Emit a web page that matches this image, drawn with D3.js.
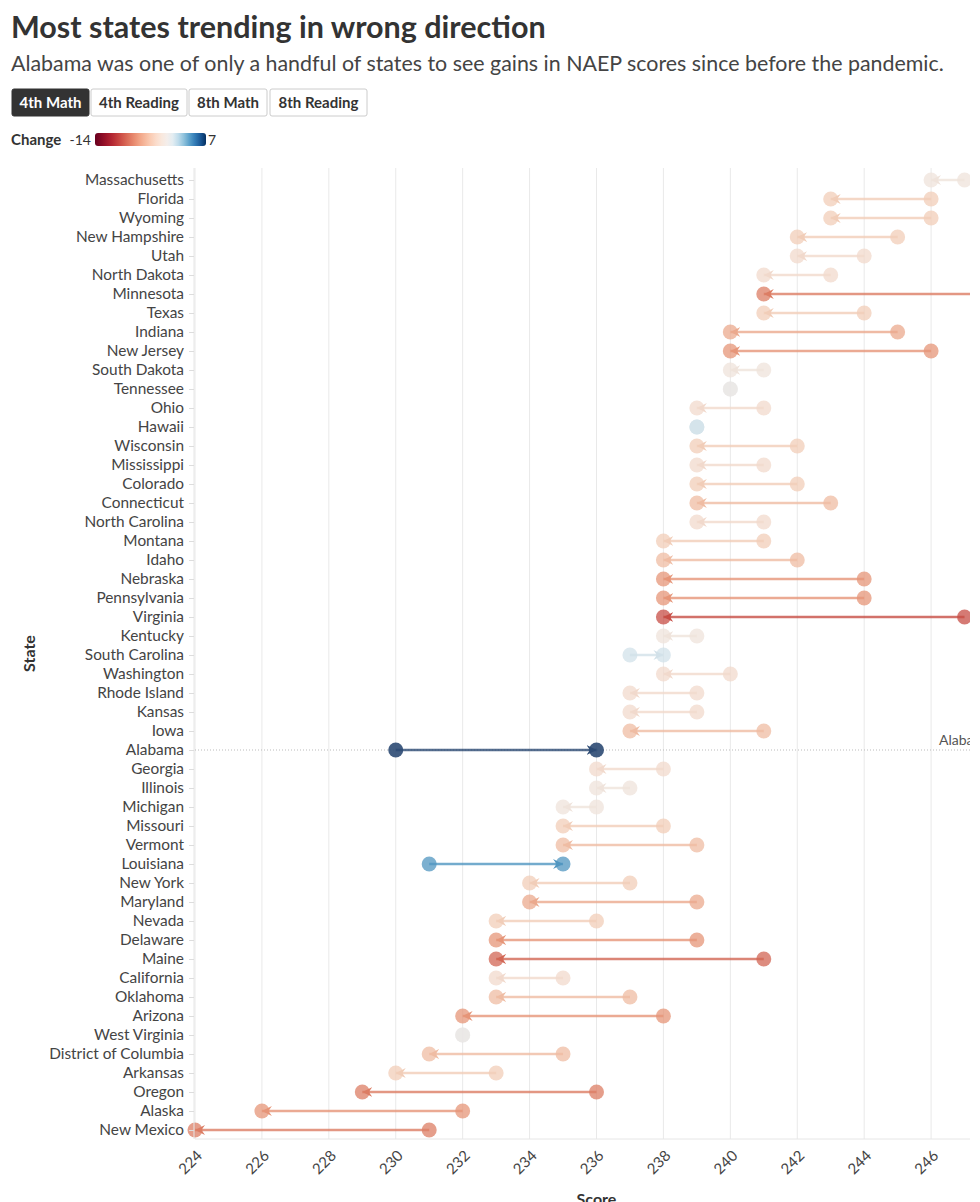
<!DOCTYPE html>
<html>
<head>
<meta charset="utf-8">
<script src="https://cdn.jsdelivr.net/npm/d3@7"></script>
<style>
  html, body { margin: 0; padding: 0; background: #fff; overflow: hidden; }
  svg { display: block; font-family: Lato, "Noto Sans", sans-serif; }
</style>
</head>
<body>
<div id="chart"></div>
<script>
// ---- data ----
const states = ["Massachusetts","Florida","Wyoming","New Hampshire","Utah","North Dakota","Minnesota","Texas","Indiana","New Jersey","South Dakota","Tennessee","Ohio","Hawaii","Wisconsin","Mississippi","Colorado","Connecticut","North Carolina","Montana","Idaho","Nebraska","Pennsylvania","Virginia","Kentucky","South Carolina","Washington","Rhode Island","Kansas","Iowa","Alabama","Georgia","Illinois","Michigan","Missouri","Vermont","Louisiana","New York","Maryland","Nevada","Delaware","Maine","California","Oklahoma","Arizona","West Virginia","District of Columbia","Arkansas","Oregon","Alaska","New Mexico"];
const score2019 = [247,246,246,245,244,243,248,244,245,246,241,240,241,239,242,241,242,243,241,241,242,244,244,247,239,237,240,239,239,241,230,238,237,236,238,239,231,237,239,236,239,241,235,237,238,232,235,233,236,232,231];
const score2022 = [246,243,243,242,242,241,241,241,240,240,240,240,239,239,239,239,239,239,239,238,238,238,238,238,238,238,238,237,237,237,236,236,236,235,235,235,235,234,234,233,233,233,233,233,232,232,231,230,229,226,224];
const change    = [-1,-3,-3,-3,-2,-2,-7,-3,-5,-6,-1,0,-2,1,-3,-2,-3,-4,-2,-3,-4,-6,-6,-9,-1,1,-2,-2,-2,-4,6,-2,-1,-1,-3,-4,4,-3,-5,-3,-6,-8,-2,-4,-6,0,-4,-3,-7,-6,-7];
const xTicks = [224,226,228,230,232,234,236,238,240,242,244,246,248];
const tabs = ["4th Math","4th Reading","8th Math","8th Reading"];
const legendDomain = [-14, 7];
const highlight = "Alabama";

const rows = states.map((s, i) => ({state: s, y19: score2019[i], y22: score2022[i], change: change[i]}));

const W = 980, H = 1202;
const svg = d3.select("#chart").append("svg").attr("width", W).attr("height", H);

// ---- header ----
svg.append("text").attr("x", 11).attr("y", 38)
  .attr("font-size", 30.5).attr("font-weight", 700).attr("fill", "#333")
  .text("Most states trending in wrong direction");
svg.append("text").attr("x", 11).attr("y", 71)
  .attr("font-size", 21.4).attr("fill", "#444")
  .text("Alabama was one of only a handful of states to see gains in NAEP scores since before the pandemic.");

// tabs
const tabX = [12, 91, 189, 270], tabW = [77, 96, 78, 97];
const tg = svg.append("g").selectAll("g").data(tabs).join("g")
  .attr("transform", (d, i) => `translate(${tabX[i]},89)`);
tg.append("rect").attr("width", (d, i) => tabW[i]).attr("height", 27).attr("rx", 2)
  .attr("fill", (d, i) => i === 0 ? "#333" : "#fff")
  .attr("stroke", (d, i) => i === 0 ? "#333" : "#ccc");
tg.append("text").attr("x", (d, i) => tabW[i] / 2).attr("y", 19).attr("text-anchor", "middle")
  .attr("font-size", 15).attr("font-weight", 700)
  .attr("fill", (d, i) => i === 0 ? "#fff" : "#333").text(d => d);

// ---- colour ----
const color = d3.scaleDiverging(d3.interpolateRdBu).domain([legendDomain[0], 0, legendDomain[1]]);

// legend
svg.append("text").attr("x", 11).attr("y", 145).attr("font-size", 15).attr("font-weight", 700).attr("fill", "#333").text("Change");
svg.append("text").attr("x", 91).attr("y", 145).attr("text-anchor", "end").attr("font-size", 14).attr("fill", "#333").text(legendDomain[0]);
svg.append("text").attr("x", 208).attr("y", 145).attr("font-size", 14).attr("fill", "#333").text(legendDomain[1]);
const defs = svg.append("defs");
const grad = defs.append("linearGradient").attr("id", "lg");
d3.range(0, 1.0001, 0.05).forEach(t => {
  grad.append("stop").attr("offset", t).attr("stop-color", color(legendDomain[0] + t * (legendDomain[1] - legendDomain[0])));
});
svg.append("rect").attr("x", 95).attr("y", 133).attr("width", 111).attr("height", 13).attr("rx", 3).attr("fill", "url(#lg)");

// ---- scales ----
const x = d3.scaleLinear().domain([224, 248]).range([195, 998]);
const y = d3.scalePoint().domain(states).range([180, 1130]);
const plotTop = 168, plotBottom = 1139, clipRight = 970;

defs.append("clipPath").attr("id", "plotclip").append("rect")
  .attr("x", 0).attr("y", 0).attr("width", clipRight).attr("height", H);

const plot = svg.append("g").attr("clip-path", "url(#plotclip)");

// grid
plot.append("g").selectAll("line").data(xTicks).join("line")
  .attr("x1", d => x(d)).attr("x2", d => x(d)).attr("y1", plotTop).attr("y2", plotBottom)
  .attr("stroke", "#e9e9e9").attr("stroke-width", 1);
plot.append("line").attr("x1", x(224)).attr("x2", W).attr("y1", plotBottom).attr("y2", plotBottom)
  .attr("stroke", "#e6e6e6");

// x axis labels
const xAxis = d3.axisBottom(x).tickValues(xTicks.filter(t => t <= 246)).tickSize(0).tickPadding(0);
const xg = svg.append("g").attr("transform", `translate(0,${plotBottom})`).call(xAxis);
xg.select(".domain").remove();
xg.selectAll("text")
  .attr("font-family", "Lato, sans-serif").attr("font-size", 15).attr("fill", "#444")
  .attr("text-anchor", "end").attr("dy", "0.35em")
  .attr("transform", "translate(4,14) rotate(-45)");
svg.append("text").attr("x", x(236)).attr("y", 1205).attr("text-anchor", "middle")
  .attr("font-size", 16).attr("font-weight", 700).attr("fill", "#333").text("Score");

// y axis
const yAxis = d3.axisLeft(y).tickSize(5).tickPadding(5);
const yg = svg.append("g").attr("transform", `translate(${x(224) - 1},0)`).call(yAxis);
yg.select(".domain").attr("d", `M0,${plotTop}V${plotBottom}`).attr("stroke", "#e6e6e6");
yg.selectAll(".tick line").attr("stroke", "#ddd");
yg.selectAll("text").attr("font-family", "Lato, sans-serif").attr("font-size", 15.4).attr("fill", "#444");
svg.append("text").attr("transform", `translate(35,${(plotTop + plotBottom) / 2}) rotate(-90)`)
  .attr("text-anchor", "middle").attr("font-size", 16).attr("font-weight", 700).attr("fill", "#333").text("State");

// highlight row
plot.append("line").attr("x1", x(224)).attr("x2", W).attr("y1", y(highlight)).attr("y2", y(highlight))
  .attr("stroke", "#bbb").attr("stroke-dasharray", "1,2");
plot.append("text").attr("x", 939).attr("y", y(highlight) - 5).attr("font-size", 14).attr("fill", "#555").text("Alabama");

const hiColor = "#2c4a73";
const fillOf = d => d.state === highlight ? hiColor : d3.color(color(d.change)).darker(0.1).formatHex();

// markers: chevron with tip at the 2022 end of the line
defs.selectAll("marker").data(rows).join("marker")
  .attr("id", (d, i) => "m" + i)
  .attr("viewBox", "0 -5 10 10").attr("refX", 10).attr("refY", 0)
  .attr("markerWidth", 4).attr("markerHeight", 4).attr("markerUnits", "strokeWidth")
  .attr("orient", "auto")
  .append("path").attr("d", "M0,-5L10,0L0,5L3.5,0Z").attr("fill", d => fillOf(d));

// dots
const dg = plot.append("g");
rows.forEach(d => {
  dg.append("circle").attr("cx", x(d.y19)).attr("cy", y(d.state)).attr("r", 7.5)
    .attr("fill", fillOf(d)).attr("fill-opacity", d.state === highlight ? 0.9 : 0.75);
  dg.append("circle").attr("cx", x(d.y22)).attr("cy", y(d.state)).attr("r", 7.5)
    .attr("fill", fillOf(d)).attr("fill-opacity", d.state === highlight ? 0.9 : 0.75);
});

// lines with arrowheads at 2022 end
plot.append("g").selectAll("line").data(rows.filter(d => d.y19 !== d.y22)).join("line")
  .attr("x1", d => x(d.y19)).attr("x2", d => x(d.y22))
  .attr("y1", d => y(d.state)).attr("y2", d => y(d.state))
  .attr("stroke", d => fillOf(d)).attr("stroke-width", 2.5).attr("stroke-opacity", 0.8)
  .attr("marker-end", d => `url(#m${rows.indexOf(d)})`);
</script>
</body>
</html>
